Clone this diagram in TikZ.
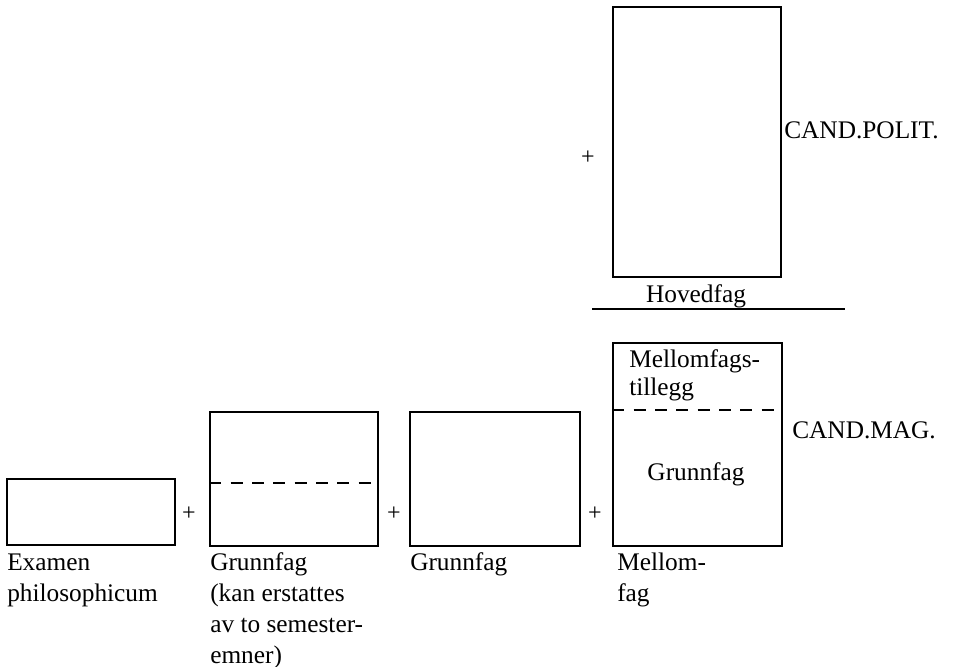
\documentclass[tikz,border=0pt]{standalone}
\usepackage{fontspec}
\setmainfont{Liberation Serif}
\usetikzlibrary{fit}
\begin{document}
\begin{tikzpicture}[x=0.75pt,y=-0.75pt,
  box/.style={draw,line width=0.9pt,inner sep=0pt},
  lbl/.style={anchor=base west,inner sep=0pt,align=left,font=\fontsize{19}{23.25}\selectfont},
  inlbl/.style={anchor=base west,inner sep=0pt,align=left,font=\fontsize{19}{21}\selectfont},
  clbl/.style={anchor=base,inner sep=0pt,font=\fontsize{19}{23.25}\selectfont},
  plussign/.style={inner sep=0pt,font=\fontsize{18}{20}\selectfont},
  dl/.style={line width=0.9pt,dash pattern=on 9pt off 7pt},
  rule/.style={line width=0.9pt}]
\useasboundingbox (0,0) rectangle (957,667);
% boxes
\node[box,fit={(7,479) (175,545)}] (ex) {};
\node[box,fit={(210,412) (378,546)}] (g1) {};
\node[box,fit={(410,412) (580,546)}] (g2) {};
\node[box,fit={(613,343) (782,546)}] (mf) {};
\node[box,fit={(613,7) (781,277)}] (hf) {};
% dashed divisions
\coordinate (d1) at (0,483);
\coordinate (d2) at (0,410);
\draw[dl] (g1.west |- d1) -- (g1.east |- d1);
\draw[dl] (mf.west |- d2) -- (mf.east |- d2);
% rule under Hovedfag
\coordinate (r1) at (592,309);
\coordinate (r2) at (845,309);
\draw[rule] (r1) -- (r2);
% plus signs
\node[plussign] (p1) at (189,514) {+};
\node[plussign] (p2) at (394,514) {+};
\node[plussign] (p3) at (595,514) {+};
\node[plussign] (p4) at (588,158) {+};
% labels under boxes (anchored at the baseline of the last line)
\node[lbl] (lex) at (7,601) {Examen\\philosophicum};
\node[lbl] (lg1) at (210,663) {Grunnfag\\(kan erstattes\\av to semester-\\emner)};
\node[lbl] (lg2) at (410,570) {Grunnfag};
\node[lbl] (lmf) at (617,601) {Mellom-\\fag};
% texts in / by boxes
\node[inlbl] (tillegg) at (629,395) {Mellomfags-\\tillegg};
\node[clbl] (gin) at (696,480) {Grunnfag};
\node[clbl] (hov) at (696,302) {Hovedfag};
\node[lbl] (cp) at (784,138) {CAND.POLIT.};
\node[lbl] (cm) at (792,438) {CAND.MAG.};
\end{tikzpicture}
\end{document}
